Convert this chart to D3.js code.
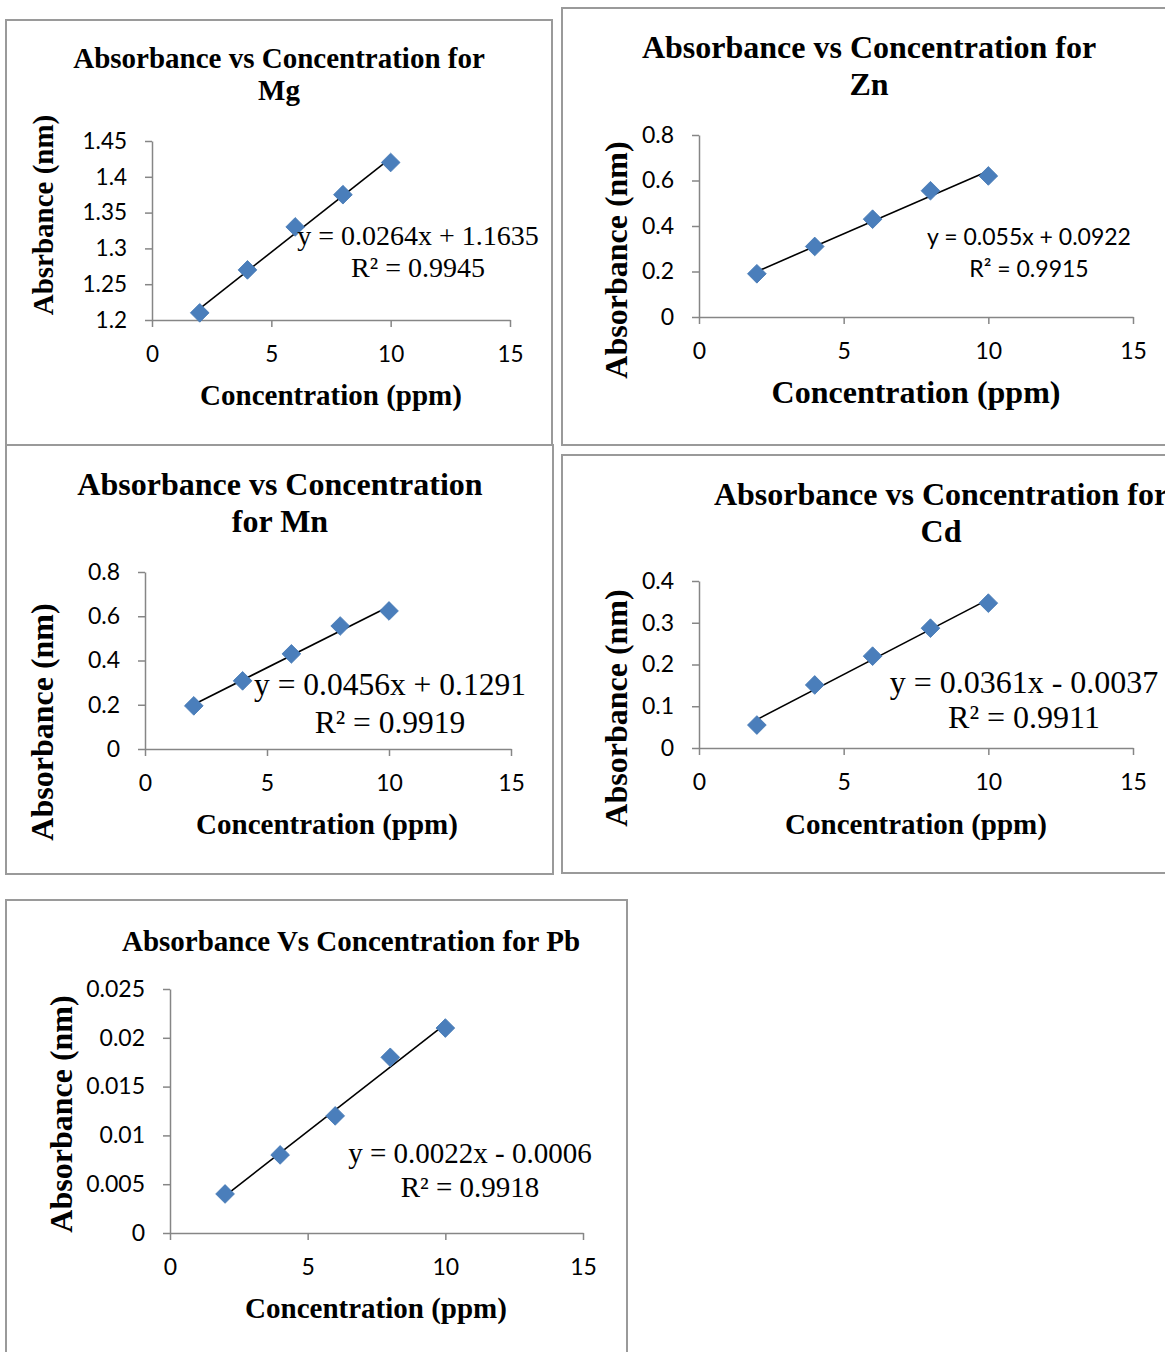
<!DOCTYPE html>
<html>
<head>
<meta charset="utf-8">
<script src="https://cdn.jsdelivr.net/npm/d3@7"></script>
<style>
    body { margin: 0; background: #fff; }
    svg { display: block; }
    .tick text { fill: #000; }
</style>
</head>
<body>
<svg id="chart" width="1165" height="1352"></svg>
<script>
// Standards (ppm), the same for every element
var concentration = [2, 4, 6, 8, 10];

// Absorbance read per element
var mgAbsorbance = [1.21, 1.27, 1.33, 1.375, 1.42];
var znAbsorbance = [0.19, 0.31, 0.43, 0.555, 0.62];
var mnAbsorbance = [0.195, 0.308, 0.43, 0.556, 0.624];
var cdAbsorbance = [0.055, 0.151, 0.22, 0.287, 0.347];
var pbAbsorbance = [0.004, 0.008, 0.012, 0.018, 0.021];

// Tick labels
var xTickValues = [0, 5, 10, 15];
var mgTickValues = [1.2, 1.25, 1.3, 1.35, 1.4, 1.45];
var znTickValues = [0, 0.2, 0.4, 0.6, 0.8];
var mnTickValues = [0, 0.2, 0.4, 0.6, 0.8];
var cdTickValues = [0, 0.1, 0.2, 0.3, 0.4];
var pbTickValues = [0, 0.005, 0.01, 0.015, 0.02, 0.025];

// Texts
var mgTitle = ["Absorbance vs Concentration for", "Mg"];
var znTitle = ["Absorbance vs Concentration for", "Zn"];
var mnTitle = ["Absorbance vs Concentration", "for Mn"];
var cdTitle = ["Absorbance vs Concentration for", "Cd"];
var pbTitle = ["Absorbance Vs Concentration for Pb"];
var xTitle = "Concentration (ppm)";
var mgYTitle = "Absrbance (nm)";
var yTitle = "Absorbance (nm)";
var mgEquation = ["y = 0.0264x + 1.1635", "R\u00b2 = 0.9945"];
var znEquation = ["y = 0.055x + 0.0922", "R\u00b2 = 0.9915"];
var mnEquation = ["y = 0.0456x + 0.1291", "R\u00b2 = 0.9919"];
var cdEquation = ["y = 0.0361x - 0.0037", "R\u00b2 = 0.9911"];
var pbEquation = ["y = 0.0022x - 0.0006", "R\u00b2 = 0.9918"];

var SERIF = "'Liberation Serif', 'Times New Roman', serif";
var SANS = "Lato, Carlito, Calibri, sans-serif";

// Layout of each chart (page pixels)
var panels = [
    {y: mgAbsorbance, ticks: mgTickValues, title: mgTitle, yTitle: mgYTitle, eq: mgEquation,
     box: [6, 20, 546, 425], px: [152, 510], py: [320, 141], tickFont: 22.5,
     titleFont: 29, titleX: 279, titleY: [68, 100], xFont: 29, yFont: 29, xT: [331, 405], yT: [53, 215],
     eqX: 418, eqY: [245, 277], eqFont: 28, eqFamily: SERIF},
    {y: znAbsorbance, ticks: znTickValues, title: znTitle, yTitle: yTitle, eq: znEquation,
     box: [562, 8, 620, 437], px: [699, 1133], py: [317, 135], tickFont: 23,
     titleFont: 32, titleX: 869, titleY: [58, 95], xFont: 32, yFont: 32, xT: [916, 403], yT: [627, 260],
     eqX: 1029, eqY: [245, 277], eqFont: 23, eqFamily: SANS},
    {y: mnAbsorbance, ticks: mnTickValues, title: mnTitle, yTitle: yTitle, eq: mnEquation,
     box: [6, 445, 547, 429], px: [145, 511], py: [749, 572], tickFont: 23,
     titleFont: 32, titleX: 280, titleY: [495, 532], xFont: 29, yFont: 32, xT: [327, 834], yT: [53, 722],
     eqX: 390, eqY: [695, 733], eqFont: 31.5, eqFamily: SERIF},
    {y: cdAbsorbance, ticks: cdTickValues, title: cdTitle, yTitle: yTitle, eq: cdEquation,
     box: [562, 455, 620, 418], px: [699, 1133], py: [748, 581], tickFont: 23,
     titleFont: 32, titleX: 941, titleY: [505, 542], xFont: 29, yFont: 32, xT: [916, 834], yT: [627, 708],
     eqX: 1024, eqY: [693, 728], eqFont: 32, eqFamily: SERIF},
    {y: pbAbsorbance, ticks: pbTickValues, title: pbTitle, yTitle: yTitle, eq: pbEquation,
     box: [6, 900, 621, 470], px: [170, 583], py: [1233, 989], tickFont: 23,
     titleFont: 29, titleX: 351, titleY: [951], xFont: 29, yFont: 32, xT: [376, 1318], yT: [72, 1114],
     eqX: 470, eqY: [1163, 1197], eqFont: 29, eqFamily: SERIF}
];

var svg = d3.select('#chart');

// Least squares line, as Excel's linear trendline
function fit(xs, ys) {
    var mx = d3.mean(xs), my = d3.mean(ys);
    var sxy = d3.sum(xs, (x, i) => (x - mx) * (ys[i] - my));
    var sxx = d3.sum(xs, (x) => (x - mx) * (x - mx));
    var slope = sxy / sxx;
    return {slope: slope, intercept: my - slope * mx};
}

function fmt(d) {
    return String(+d.toFixed(4));
}

function drawPanel(p) {
    var g = svg.append('g');

    // Frame of the embedded chart
    g.append('rect')
        .attr('x', p.box[0]).attr('y', p.box[1])
        .attr('width', p.box[2]).attr('height', p.box[3])
        .attr('fill', '#fff').attr('stroke', '#9a9a9a').attr('stroke-width', 2);

    var x = d3.scaleLinear().domain([0, 15]).range(p.px);
    var y = d3.scaleLinear().domain([p.ticks[0], p.ticks[p.ticks.length - 1]]).range(p.py);

    var xAxis = g.append('g')
        .attr('transform', 'translate(0,' + p.py[0] + ')')
        .call(d3.axisBottom(x).tickValues(xTickValues).tickFormat(fmt)
            .tickSizeInner(7).tickSizeOuter(0).tickPadding(19));
    var yAxis = g.append('g')
        .attr('transform', 'translate(' + p.px[0] + ',0)')
        .call(d3.axisLeft(y).tickValues(p.ticks).tickFormat(fmt)
            .tickSizeInner(7).tickSizeOuter(0).tickPadding(18));

    [xAxis, yAxis].forEach((a) => {
        a.selectAll('path, line').attr('stroke', '#868686').attr('stroke-width', 1.5);
        a.selectAll('text').style('font-family', SANS).style('font-size', p.tickFont + 'px');
    });

    // Trendline over the measured range
    var f = fit(concentration, p.y);
    var x0 = d3.min(concentration), x1 = d3.max(concentration);
    g.append('line')
        .attr('x1', x(x0)).attr('y1', y(f.intercept + f.slope * x0))
        .attr('x2', x(x1)).attr('y2', y(f.intercept + f.slope * x1))
        .attr('stroke', '#000').attr('stroke-width', 1.6);

    // Diamond markers
    var diamond = d3.symbol().type(d3.symbolSquare).size(175);
    g.selectAll('path.pt')
        .data(concentration.map((c, i) => ({x: c, y: p.y[i]})))
        .enter().append('path').classed('pt', true)
        .attr('d', diamond)
        .attr('transform', (d) => 'translate(' + x(d.x) + ',' + y(d.y) + ') rotate(45)')
        .attr('fill', '#4a7ebb').attr('stroke', '#4579b5').attr('stroke-width', 0.8);

    // Titles
    g.selectAll('text.title').data(p.title).enter().append('text').classed('title', true)
        .attr('x', p.titleX).attr('y', (d, i) => p.titleY[i])
        .attr('text-anchor', 'middle')
        .style('font-family', SERIF).style('font-weight', 'bold').style('font-size', p.titleFont + 'px')
        .text((d) => d);

    g.append('text')
        .attr('x', p.xT[0]).attr('y', p.xT[1])
        .attr('text-anchor', 'middle')
        .style('font-family', SERIF).style('font-weight', 'bold').style('font-size', p.xFont + 'px')
        .text(xTitle);

    g.append('text')
        .attr('transform', 'translate(' + p.yT[0] + ',' + p.yT[1] + ') rotate(-90)')
        .attr('text-anchor', 'middle')
        .style('font-family', SERIF).style('font-weight', 'bold').style('font-size', p.yFont + 'px')
        .text(p.yTitle);

    // Trendline label
    g.selectAll('text.eq').data(p.eq).enter().append('text').classed('eq', true)
        .attr('x', p.eqX).attr('y', (d, i) => p.eqY[i])
        .attr('text-anchor', 'middle')
        .style('font-family', p.eqFamily).style('font-size', p.eqFont + 'px')
        .text((d) => d);
}

panels.forEach(drawPanel);
</script>
</body>
</html>
